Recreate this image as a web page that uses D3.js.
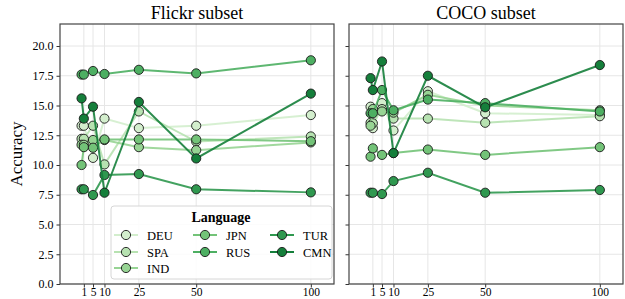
<!DOCTYPE html>
<html><head><meta charset="utf-8">
<script src="https://cdn.jsdelivr.net/npm/d3@7"></script>
<style>body{margin:0;background:#fff}svg{display:block}text{font-family:"Liberation Serif","DejaVu Serif",serif}</style>
</head><body>
<svg id="c" width="625" height="299"></svg>
<script>
const languages = ["DEU","SPA","IND","JPN","RUS","TUR","CMN"];
const shots = [0,1,5,10,25,50,100];
const xTicks = [1,5,10,25,50,100];
const yTicks = [0,2.5,5,7.5,10,12.5,15,17.5,20];
const panelTitles = ["Flickr subset","COCO subset"];

// Flickr subset
const flickrDEU = [13.3, 13.3, 10.6, 13.9, 13.1, 13.3, 14.2];
const flickrSPA = [12.2, 12.2, 13.3, 10.05, 14.5, 11.97, 12.4];
const flickrIND = [11.7, 11.7, 12.1, 12.1, 11.5, 11.25, 11.9];
const flickrJPN = [10.0, 11.5, 11.45, 12.15, 12.15, 12.15, 12.0];
const flickrRUS = [17.6, 17.6, 17.9, 17.65, 18.0, 17.7, 18.8];
const flickrTUR = [7.96, 7.96, 7.48, 9.16, 9.24, 7.96, 7.7];
const flickrCMN = [15.6, 13.9, 14.9, 7.67, 15.3, 10.55, 16.0];

// COCO subset
const cocoDEU = [14.9, 13.1, 15.2, 12.9, 16.2, 14.35, 14.2];
const cocoSPA = [13.55, 13.5, 14.7, 13.9, 13.9, 13.55, 14.1];
const cocoIND = [13.3, 14.7, 14.5, 14.4, 15.9, 15.0, 14.6];
const cocoJPN = [10.7, 11.4, 10.85, 11.0, 11.3, 10.85, 11.5];
const cocoRUS = [14.35, 14.35, 16.3, 14.6, 15.5, 15.2, 14.5];
const cocoTUR = [7.67, 7.67, 7.56, 8.65, 9.35, 7.67, 7.9];
const cocoCMN = [17.3, 16.3, 18.7, 11.0, 17.5, 14.85, 18.4];

const colors = ["#d3eecd","#b7e2b1","#97d494","#73c378","#4daf62","#2f984f","#157f3b"];

const panels = [
  [flickrDEU, flickrSPA, flickrIND, flickrJPN, flickrRUS, flickrTUR, flickrCMN],
  [cocoDEU, cocoSPA, cocoIND, cocoJPN, cocoRUS, cocoTUR, cocoCMN]
];

const svg = d3.select("#c");
const plotTop = 24, plotBottom = 284, pw = 274;
const lefts = [60, 349];
const y = d3.scaleLinear().domain([0, 21.85]).range([plotBottom, plotTop]);

panels.forEach((series, pi) => {
  const x0 = lefts[pi];
  const x = d3.scaleLinear().domain([-9.4, 110.1]).range([x0, x0 + pw]);
  const g = svg.append("g");
  g.selectAll(".gx").data(xTicks).join("line")
    .attr("x1", d => x(d)).attr("x2", d => x(d)).attr("y1", plotTop).attr("y2", plotBottom)
    .attr("stroke", "#e6e6e6").attr("stroke-width", 1);
  g.selectAll(".gy").data(yTicks).join("line")
    .attr("x1", x0).attr("x2", x0 + pw).attr("y1", d => y(d)).attr("y2", d => y(d))
    .attr("stroke", "#e6e6e6").attr("stroke-width", 1);
  const xa = g.append("g").attr("transform", `translate(0,${plotBottom})`)
    .call(d3.axisBottom(x).tickValues(xTicks).tickSize(3.5).tickPadding(1).tickFormat(d3.format("d")));
  xa.select(".domain").remove();
  xa.selectAll("text").attr("font-size", 11.5).attr("fill", "#000")
    .attr("font-family", "Liberation Serif").attr("dy", "0.62em");
  xa.selectAll("line").attr("stroke", "#333");
  const ya = g.append("g").attr("transform", `translate(${x0},0)`)
    .call(d3.axisLeft(y).tickValues(yTicks).tickSize(3.5).tickPadding(3).tickFormat(d3.format(".1f")));
  ya.select(".domain").remove();
  ya.selectAll("line").attr("stroke", "#333");
  ya.selectAll("text").attr("font-size", 12).attr("fill", "#000").attr("font-family", "Liberation Serif");
  if (pi === 1) ya.selectAll("text").remove();
  const line = d3.line().x((d, i) => x(shots[i])).y(d => y(d));
  series.forEach((vals, si) => {
    const sg = g.append("g");
    sg.append("path").attr("d", line(vals)).attr("fill", "none")
      .attr("stroke", colors[si]).attr("stroke-width", 2).attr("stroke-opacity", 0.9);
    sg.selectAll("circle").data(vals).join("circle")
      .attr("cx", (d, i) => x(shots[i])).attr("cy", d => y(d)).attr("r", 4.6)
      .attr("fill", colors[si]).attr("stroke", "#1a1a1a").attr("stroke-width", 0.9);
  });
  g.append("rect").attr("x", x0).attr("y", plotTop).attr("width", pw).attr("height", plotBottom - plotTop)
    .attr("fill", "none").attr("stroke", "#444").attr("stroke-width", 1.2);
  g.append("text").attr("x", x0 + pw / 2).attr("y", 19).attr("text-anchor", "middle")
    .attr("font-size", 18).text(panelTitles[pi]);
});

svg.append("text").attr("transform", `translate(22,${(plotTop + plotBottom) / 2}) rotate(-90)`)
  .attr("text-anchor", "middle").attr("font-size", 17).text("Accuracy");

const lg = svg.append("g");
lg.append("rect").attr("x", 111).attr("y", 206).attr("width", 221).attr("height", 73)
  .attr("rx", 3).attr("fill", "#fff").attr("fill-opacity", 0.85).attr("stroke", "#d6d6d6");
lg.append("text").attr("x", 221).attr("y", 222).attr("text-anchor", "middle")
  .attr("font-size", 14).attr("font-weight", "bold").text("Language");
const colX = [126, 205, 282], rowY = [235, 252, 268];
const legendCol = [0, 0, 0, 1, 1, 2, 2], legendRow = [0, 1, 2, 0, 1, 0, 1];
languages.forEach((lang, i) => {
  const cx = colX[legendCol[i]], cy = rowY[legendRow[i]];
  lg.append("line").attr("x1", cx - 12).attr("x2", cx + 12).attr("y1", cy).attr("y2", cy)
    .attr("stroke", colors[i]).attr("stroke-width", 2);
  lg.append("circle").attr("cx", cx).attr("cy", cy).attr("r", 4.6)
    .attr("fill", colors[i]).attr("stroke", "#1a1a1a").attr("stroke-width", 0.9);
  lg.append("text").attr("x", cx + 21).attr("y", cy + 4.5).attr("font-size", 12.5).text(lang);
});
</script>
</body></html>
